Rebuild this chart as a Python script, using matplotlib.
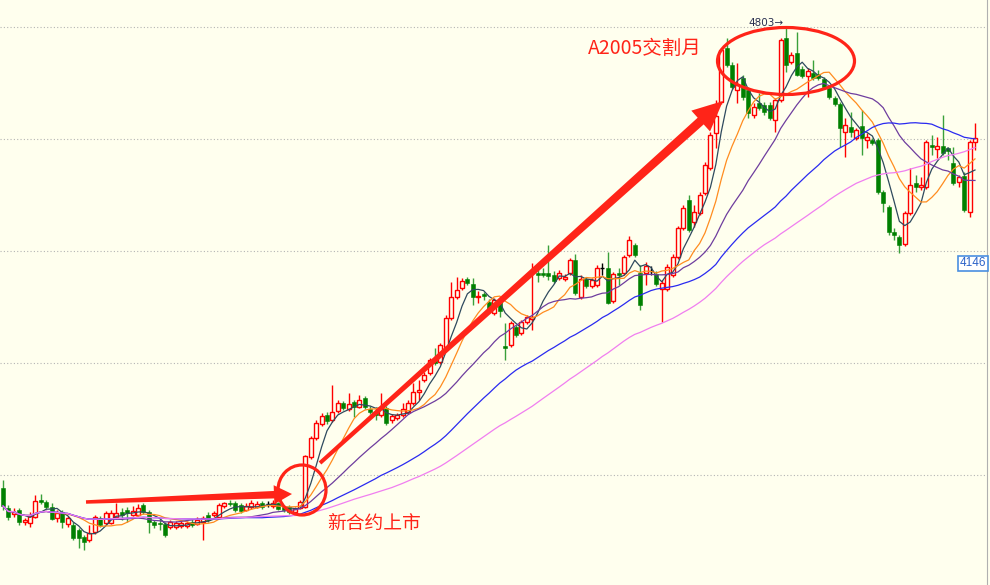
import numpy as np
import pandas as pd
import matplotlib
matplotlib.use('Agg')
import matplotlib.pyplot as plt
from matplotlib.patches import Ellipse, Polygon, Rectangle
from matplotlib.lines import Line2D

# daily candles, soybean A contract
opens = [3423, 3363, 3345, 3357, 3321, 3318, 3336, 3387, 3381, 3366,
         3333, 3351, 3315, 3312, 3297, 3276, 3267, 3291, 3333, 3318,
         3318, 3336, 3351, 3357, 3342, 3342, 3372, 3351, 3321, 3318,
         3315, 3306, 3306, 3309, 3309, 3321, 3315, 3321, 3342, 3342,
         3336, 3369, 3378, 3378, 3372, 3357, 3366, 3366, 3378, 3375,
         3369, 3378, 3366, 3366, 3351, 3363, 3366, 3516, 3573, 3615,
         3642, 3627, 3654, 3678, 3660, 3681, 3666, 3693, 3660, 3651,
         3642, 3663, 3627, 3633, 3642, 3651, 3678, 3711, 3747, 3768,
         3813, 3801, 3846, 3933, 3996, 4023, 4050, 4035, 3996, 4005,
         3981, 3948, 3981, 3849, 3852, 3906, 3888, 3921, 3930, 4068,
         4068, 4068, 4062, 4053, 4050, 4068, 4107, 3996, 4050, 4029,
         4032, 4083, 4083, 3984, 4068, 4068, 4122, 4152, 4068, 4068,
         4074, 4065, 4020, 4020, 4062, 4116, 4203, 4287, 4221, 4248,
         4308, 4383, 4488, 4581, 4743, 4692, 4617, 4653, 4617, 4542,
         4578, 4572, 4572, 4527, 4587, 4773, 4701, 4728, 4680, 4659,
         4668, 4665, 4650, 4623, 4593, 4575, 4491, 4506, 4473, 4509,
         4467, 4467, 4467, 4311, 4266, 4191, 4176, 4155, 4248, 4338,
         4326, 4326, 4452, 4440, 4449, 4443, 4398, 4341, 4359, 4251,
         4461]
highs = [3447, 3372, 3363, 3363, 3333, 3351, 3402, 3405, 3387, 3378,
         3357, 3357, 3339, 3321, 3303, 3282, 3312, 3342, 3339, 3354,
         3357, 3378, 3363, 3366, 3369, 3375, 3378, 3357, 3327, 3333,
         3321, 3327, 3324, 3327, 3324, 3330, 3336, 3339, 3351, 3354,
         3378, 3381, 3387, 3384, 3378, 3378, 3387, 3384, 3384, 3384,
         3387, 3381, 3372, 3372, 3366, 3387, 3522, 3579, 3627, 3648,
         3651, 3732, 3687, 3684, 3708, 3687, 3702, 3699, 3669, 3666,
         3708, 3669, 3645, 3648, 3678, 3687, 3738, 3747, 3771, 3813,
         3843, 3858, 3942, 4041, 4056, 4053, 4056, 4053, 4014, 4011,
         3990, 3993, 3996, 3918, 3924, 3912, 3927, 3942, 4098, 4086,
         4083, 4152, 4074, 4077, 4065, 4113, 4125, 4062, 4056, 4053,
         4092, 4098, 4131, 4071, 4083, 4122, 4179, 4158, 4092, 4101,
         4089, 4074, 4047, 4095, 4125, 4209, 4272, 4302, 4272, 4311,
         4401, 4491, 4587, 4743, 4773, 4701, 4698, 4662, 4626, 4578,
         4608, 4581, 4581, 4593, 4773, 4803, 4731, 4791, 4689, 4683,
         4707, 4677, 4656, 4629, 4599, 4581, 4533, 4551, 4503, 4557,
         4488, 4473, 4473, 4317, 4272, 4203, 4182, 4254, 4383, 4362,
         4356, 4467, 4482, 4476, 4542, 4446, 4446, 4362, 4371, 4467,
         4518]
lows = [3357, 3327, 3336, 3312, 3312, 3306, 3333, 3375, 3360, 3327,
        3321, 3303, 3306, 3267, 3243, 3237, 3261, 3285, 3306, 3312,
        3315, 3330, 3327, 3321, 3339, 3339, 3345, 3288, 3303, 3297,
        3276, 3300, 3300, 3303, 3303, 3306, 3312, 3267, 3321, 3336,
        3333, 3363, 3369, 3351, 3348, 3354, 3360, 3363, 3360, 3366,
        3363, 3357, 3351, 3345, 3345, 3360, 3363, 3510, 3567, 3609,
        3615, 3621, 3648, 3657, 3654, 3636, 3663, 3660, 3645, 3627,
        3636, 3612, 3618, 3627, 3636, 3645, 3672, 3687, 3741, 3762,
        3792, 3795, 3840, 3927, 3990, 4017, 4032, 3972, 3978, 3987,
        3951, 3942, 3936, 3807, 3846, 3876, 3882, 3915, 3897, 4041,
        4056, 4047, 4038, 4047, 4044, 4062, 4002, 3990, 4023, 4023,
        4026, 4062, 3975, 3978, 4032, 4062, 4116, 4116, 3957, 4032,
        4062, 4029, 3921, 4014, 4056, 4110, 4197, 4191, 4206, 4242,
        4302, 4377, 4443, 4575, 4686, 4620, 4578, 4587, 4533, 4533,
        4557, 4542, 4527, 4491, 4581, 4671, 4695, 4659, 4653, 4596,
        4647, 4647, 4620, 4590, 4569, 4446, 4416, 4476, 4467, 4422,
        4443, 4452, 4305, 4251, 4182, 4167, 4128, 4149, 4242, 4311,
        4317, 4320, 4422, 4413, 4422, 4407, 4332, 4326, 4251, 4236,
        4437]
closes = [3369, 3336, 3351, 3321, 3327, 3339, 3384, 3381, 3366, 3330,
          3348, 3321, 3333, 3273, 3273, 3261, 3288, 3336, 3312, 3348,
          3348, 3348, 3342, 3348, 3354, 3363, 3351, 3321, 3312, 3315,
          3282, 3321, 3318, 3318, 3318, 3312, 3327, 3333, 3327, 3348,
          3372, 3378, 3375, 3357, 3354, 3369, 3378, 3375, 3366, 3375,
          3378, 3360, 3357, 3351, 3360, 3381, 3519, 3573, 3618, 3639,
          3624, 3651, 3678, 3663, 3675, 3666, 3687, 3666, 3651, 3642,
          3666, 3618, 3639, 3642, 3660, 3678, 3711, 3717, 3762, 3807,
          3798, 3852, 3933, 3996, 4017, 4044, 4038, 3996, 3999, 3999,
          3957, 3987, 3954, 3843, 3918, 3882, 3921, 3936, 3936, 4062,
          4062, 4059, 4044, 4068, 4056, 4107, 4008, 4050, 4029, 4047,
          4083, 4083, 3978, 4065, 4062, 4116, 4167, 4122, 3972, 4089,
          4074, 4035, 4038, 4086, 4116, 4203, 4263, 4197, 4251, 4302,
          4392, 4482, 4539, 4737, 4692, 4626, 4632, 4596, 4548, 4566,
          4563, 4551, 4533, 4587, 4767, 4692, 4722, 4662, 4659, 4674,
          4653, 4653, 4626, 4596, 4575, 4503, 4512, 4491, 4497, 4473,
          4476, 4458, 4311, 4278, 4191, 4182, 4152, 4248, 4332, 4326,
          4332, 4461, 4446, 4449, 4428, 4434, 4338, 4356, 4257, 4461,
          4473]

ma_periods = [5, 10, 20, 40, 60]
ma_colors = ['#2f4a5e', '#ff8c1f', '#6e3d9e', '#2a2af0', '#f07ef0']

grid_levels = [4806, 4470, 4134, 3798, 3462]

peak_text = '4803→'
price_tag = '4146'
note_new = '新合约上市'
note_delivery = 'A2005交割月'

bg = '#ffffee'
red = '#ff2418'
W, H = 990, 585
cjk = ['Noto Sans CJK SC', 'DejaVu Sans']


def fx(x):
    return x / W


def fy(y):
    return 1 - y / H


def arrow_poly(x0, y0, x1, y1, w0, w1, hl, hw):
    # tapered arrow, built in pixel space
    d = np.array([x1 - x0, y1 - y0], float)
    d /= np.hypot(*d)
    n = np.array([-d[1], d[0]])
    s = np.array([x0, y0], float)
    t = np.array([x1, y1], float)
    b = t - d * hl
    pts = [s + n * w0 / 2, b + n * w1 / 2, b + n * hw / 2, t,
           b - n * hw / 2, b - n * w1 / 2, s - n * w0 / 2]
    return [(fx(p[0]), fy(p[1])) for p in pts]


o = np.array(opens, float)
h = np.array(highs, float)
l = np.array(lows, float)
c = np.array(closes, float)
x = np.arange(len(o))

up = c > o
down = c < o
flat = c == o

fig = plt.figure(figsize=(9.9, 5.85), dpi=100, facecolor=bg)
ax = fig.add_axes([0, 0, 1, 1])
ax.set_facecolor(bg)
ax.set_xlim(-0.556, 182.78)
ax.set_ylim(3132, 4887)
ax.axis('off')

for g in grid_levels:
    ax.axhline(g, xmax=985 / W, color='#b4b4b4', lw=0.8, ls=(0, (1, 2)), zorder=1)

bw = 0.74
ax.vlines(x[down], l[down], h[down], color='#3aa03a', lw=1, zorder=2)
ax.bar(x[down], o[down] - c[down], bottom=c[down], width=bw,
       color='#008000', edgecolor='#008000', lw=0.4, zorder=3)
ax.vlines(x[up], c[up], h[up], color='red', lw=1, zorder=2)
ax.vlines(x[up], l[up], o[up], color='red', lw=1, zorder=2)
ax.bar(x[up], c[up] - o[up], bottom=o[up], width=bw,
       facecolor=bg, edgecolor='red', lw=1, zorder=3)
ax.vlines(x[flat], l[flat], h[flat], color='black', lw=1, zorder=2)
ax.hlines(c[flat], x[flat] - bw / 2, x[flat] + bw / 2, color='black', lw=1, zorder=3)

s = pd.Series(c)
for p, col in zip(ma_periods, ma_colors):
    ax.plot(x, s.rolling(p, min_periods=1).mean(), color=col, lw=0.9, zorder=4)

# right border of the price panel
fig.add_artist(Line2D([fx(987), fx(987)], [0, 1], color='#b0b0b0', lw=0.8))

# annotations
fig.add_artist(Polygon(arrow_poly(86, 502, 292, 494, 3.5, 7.5, 18, 19),
                       closed=True, facecolor=red, edgecolor='none', zorder=10))
fig.add_artist(Polygon(arrow_poly(320, 463, 723, 101, 4, 9, 30, 28),
                       closed=True, facecolor=red, edgecolor='none', zorder=10))
fig.add_artist(Ellipse((fx(302), fy(490)), 48 / W, 50 / H, transform=fig.transFigure,
                       fill=False, edgecolor=red, lw=2.3, zorder=10))
fig.add_artist(Ellipse((fx(786), fy(61)), 137 / W, 67 / H, transform=fig.transFigure,
                       fill=False, edgecolor=red, lw=2.3, zorder=10))

fig.text(fx(588), fy(48), note_delivery, color=red, fontsize=14, family=cjk,
         ha='left', va='center')
fig.text(fx(327), fy(524), note_new, color=red, fontsize=13.5, family=cjk,
         ha='left', va='center')
fig.text(fx(748), fy(23), peak_text, color='#2a3050', fontsize=7.5,
         family='DejaVu Sans', ha='left', va='center')

fig.add_artist(Rectangle((fx(958), fy(271)), 30 / W, 15 / H, transform=fig.transFigure,
                         facecolor='white', edgecolor='#4a8fe0', lw=1.2, zorder=10))
fig.text(fx(973), fy(263.5), price_tag, color='#2b62c8', fontsize=8.5,
         family='Liberation Sans', ha='center', va='center', zorder=11)

fig.savefig('out.png', dpi=100, facecolor=bg)
